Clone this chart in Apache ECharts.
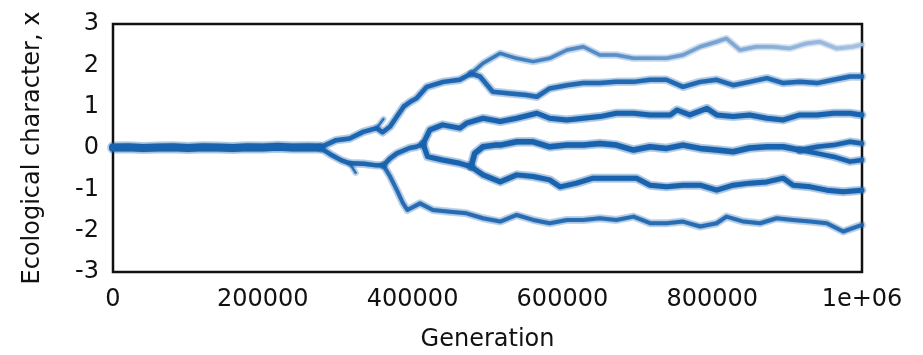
<!DOCTYPE html>
<html>
<head>
<meta charset="utf-8">
<title>Ecological character over generations</title>
<script src="https://cdn.jsdelivr.net/npm/echarts@6/dist/echarts.min.js"></script>
<style>
  html, body { margin: 0; padding: 0; background: #fff; }
  #chart { width: 923px; height: 355px; }
</style>
</head>
<body>
<div id="chart"></div>
<script>
// Axis tick labels
const xTickLabels = ['0', '200000', '400000', '600000', '800000', '1e+06'];
const yTickLabels = ['-3', '-2', '-1', '0', '1', '2', '3'];

// Common ancestor lineage before the first split
const trunkGen = [0, 20000, 40000, 60000, 80000, 100000, 120000, 140000, 160000, 180000, 200000, 220000, 240000, 260000, 276000];
const trunkX   = [0.01, 0.02, 0.0, 0.01, 0.02, 0.0, 0.02, 0.01, 0.0, 0.02, 0.01, 0.03, 0.01, 0.02, 0.01];

// Upper lineage after the first split
const upGen = [276000, 298000, 316000, 334000, 352000, 360000, 370000, 379000, 388000, 397000, 405000, 419000, 441000, 463000, 478000];
const upX   = [0.01, 0.19, 0.23, 0.39, 0.48, 0.38, 0.52, 0.76, 1.0, 1.12, 1.2, 1.48, 1.6, 1.65, 1.8];

// Top lineage (x ~ 2.4)
const topGen = [478000, 494000, 517000, 539000, 561000, 583000, 606000, 628000, 650000, 672000, 695000, 717000, 739000, 761000, 784000, 806000, 819000, 837000, 859000, 881000, 904000, 926000, 944000, 966000, 988000, 1000000];
const topX   = [1.8, 2.05, 2.29, 2.17, 2.09, 2.17, 2.37, 2.45, 2.25, 2.25, 2.17, 2.17, 2.17, 2.25, 2.45, 2.57, 2.65, 2.37, 2.45, 2.45, 2.41, 2.53, 2.57, 2.41, 2.45, 2.5];

// Second lineage (x ~ 1.6)
const highGen = [478000, 490000, 507000, 530000, 552000, 566000, 583000, 606000, 628000, 650000, 672000, 695000, 717000, 739000, 761000, 784000, 806000, 828000, 850000, 873000, 895000, 917000, 940000, 962000, 984000, 1000000];
const highX   = [1.8, 1.73, 1.36, 1.32, 1.28, 1.24, 1.44, 1.52, 1.57, 1.57, 1.6, 1.6, 1.65, 1.65, 1.48, 1.6, 1.65, 1.52, 1.6, 1.69, 1.57, 1.6, 1.57, 1.65, 1.73, 1.73];

// Lower lineage after the first split
const lowGen = [276000, 290000, 305000, 316000, 335000, 352000, 361000];
const lowX   = [0.01, -0.15, -0.3, -0.37, -0.38, -0.42, -0.42];

// Bottom lineage (x ~ -1.8)
const bottomGen = [361000, 370000, 379000, 387000, 393000, 410000, 427000, 450000, 472000, 494000, 517000, 539000, 561000, 583000, 606000, 628000, 650000, 672000, 695000, 717000, 739000, 761000, 784000, 806000, 819000, 842000, 864000, 886000, 908000, 931000, 953000, 975000, 1000000];
const bottomX   = [-0.42, -0.69, -1.02, -1.33, -1.5, -1.34, -1.5, -1.54, -1.58, -1.7, -1.78, -1.62, -1.74, -1.82, -1.74, -1.74, -1.7, -1.74, -1.66, -1.82, -1.82, -1.78, -1.9, -1.82, -1.66, -1.78, -1.82, -1.7, -1.74, -1.78, -1.82, -2.02, -1.86];

// Lineage climbing back toward zero before its own split
const riseGen = [361000, 370000, 379000, 396000, 405000, 414000];
const riseX   = [-0.42, -0.25, -0.13, 0.0, 0.03, 0.1];

// Lineage at x ~ 0.8
const midHighGen = [414000, 423000, 440000, 463000, 472000, 494000, 517000, 539000, 566000, 583000, 606000, 628000, 650000, 672000, 695000, 717000, 744000, 753000, 770000, 793000, 806000, 828000, 850000, 873000, 895000, 917000, 940000, 962000, 984000, 1000000];
const midHighX   = [0.1, 0.44, 0.56, 0.48, 0.6, 0.72, 0.64, 0.72, 0.84, 0.72, 0.68, 0.72, 0.76, 0.84, 0.84, 0.8, 0.8, 0.92, 0.8, 0.96, 0.8, 0.76, 0.8, 0.72, 0.68, 0.8, 0.8, 0.84, 0.84, 0.8];

// Short stretch below zero before the next split
const dipGen = [414000, 420000, 440000, 463000, 478000];
const dipX   = [0.1, -0.21, -0.29, -0.37, -0.45];

// Lineage near zero
const zeroGen = [478000, 483000, 494000, 510000, 517000, 539000, 561000, 583000, 606000, 628000, 650000, 672000, 695000, 717000, 739000, 761000, 784000, 806000, 828000, 850000, 873000, 895000, 917000];
const zeroX   = [-0.45, -0.13, 0.03, 0.07, 0.07, 0.15, 0.15, 0.03, 0.07, 0.07, 0.11, 0.07, -0.05, 0.03, -0.01, 0.07, -0.01, -0.05, -0.09, 0.0, 0.03, 0.03, -0.05];

// Late split of the zero lineage
const zeroUpGen = [917000, 940000, 962000, 984000, 1000000];
const zeroUpX   = [-0.05, 0.03, 0.07, 0.15, 0.11];
const zeroDownGen = [917000, 940000, 962000, 984000, 1000000];
const zeroDownX   = [-0.05, -0.13, -0.21, -0.33, -0.29];

// Lineage at x ~ -0.9
const minusGen = [478000, 494000, 517000, 539000, 561000, 583000, 597000, 619000, 641000, 664000, 686000, 699000, 717000, 739000, 761000, 784000, 806000, 828000, 850000, 873000, 895000, 908000, 931000, 953000, 975000, 1000000];
const minusX   = [-0.45, -0.65, -0.82, -0.65, -0.69, -0.77, -0.94, -0.85, -0.73, -0.73, -0.73, -0.73, -0.9, -0.94, -0.9, -0.9, -1.02, -0.9, -0.85, -0.82, -0.73, -0.9, -0.94, -1.02, -1.06, -1.02];

// Short-lived offshoots
const stubLowGen = [316000, 324000];
const stubLowX   = [-0.37, -0.6];
const stubUpGen = [352000, 361000];
const stubUpX   = [0.48, 0.7];

const BLUE = '#1862ae';

function pairs(gens, vals) {
  return gens.map((g, i) => [g, vals[i]]);
}

// Each lineage: a soft wide halo under a solid core
function lineage(gens, vals, width, opacity, color) {
  const data = pairs(gens, vals);
  const c = color || BLUE;
  return [
    {
      type: 'line', data: data, symbol: 'none', silent: true, z: 2,
      lineStyle: { color: c, width: width + 4, opacity: opacity * 0.3, cap: 'round', join: 'round' }
    },
    {
      type: 'line', data: data, symbol: 'none', silent: true, z: 3,
      lineStyle: { color: c, width: width, opacity: opacity, cap: 'round', join: 'round',
                   shadowBlur: 2, shadowColor: 'rgba(24,98,174,0.5)' }
    }
  ];
}

const topColor = new echarts.graphic.LinearGradient(0, 0, 1, 0, [
  { offset: 0, color: '#2a6fb6' },
  { offset: 0.45, color: '#5f93cb' },
  { offset: 1, color: '#a8c3e2' }
]);

const series = [].concat(
  lineage(trunkGen, trunkX, 8, 1),
  lineage(upGen, upX, 4.5, 0.95),
  lineage(topGen, topX, 3.5, 0.9, topColor),
  lineage(highGen, highX, 4.5, 0.9),
  lineage(lowGen, lowX, 4.5, 0.95),
  lineage(bottomGen, bottomX, 4, 0.85),
  lineage(riseGen, riseX, 4.5, 0.95),
  lineage(midHighGen, midHighX, 5, 1),
  lineage(dipGen, dipX, 5, 1),
  lineage(zeroGen, zeroX, 5.5, 1),
  lineage(zeroUpGen, zeroUpX, 4.5, 1),
  lineage(zeroDownGen, zeroDownX, 4.5, 1),
  lineage(minusGen, minusX, 5, 1),
  lineage(stubLowGen, stubLowX, 2.5, 0.8),
  lineage(stubUpGen, stubUpX, 2.5, 0.8)
);

const FONT = 'DejaVu Sans';
const INK = '#111';

const option = {
  animation: false,
  backgroundColor: '#fff',
  grid: {
    left: 113, right: 61, top: 24, bottom: 83,
    outerBoundsMode: 'none', containLabel: false,
    show: true, borderColor: '#111', borderWidth: 2.5, backgroundColor: 'transparent'
  },
  xAxis: {
    type: 'value', min: 0, max: 1000000, interval: 200000,
    name: 'Generation', nameLocation: 'middle', nameGap: 56,
    nameTextStyle: { fontFamily: FONT, fontSize: 24, color: INK },
    axisLine: { show: false },
    axisTick: { show: false },
    splitLine: { show: false },
    axisLabel: {
      margin: 16, fontFamily: FONT, fontSize: 24, color: INK,
      showMaxLabel: true, showMinLabel: true,
      formatter: v => xTickLabels[Math.round(v / 200000)]
    }
  },
  yAxis: {
    type: 'value', min: -3, max: 3, interval: 1,
    name: 'Ecological character, x', nameLocation: 'middle', nameGap: 68,
    nameTextStyle: { fontFamily: FONT, fontSize: 24, color: INK },
    axisLine: { show: false },
    axisTick: { show: false },
    splitLine: { show: false },
    axisLabel: {
      margin: 14, fontFamily: FONT, fontSize: 24, color: INK,
      formatter: v => yTickLabels[Math.round(v) + 3]
    }
  },
  series: series
};

const chart = echarts.init(document.getElementById('chart'), null, { renderer: 'canvas' });
chart.setOption(option);
</script>
</body>
</html>
